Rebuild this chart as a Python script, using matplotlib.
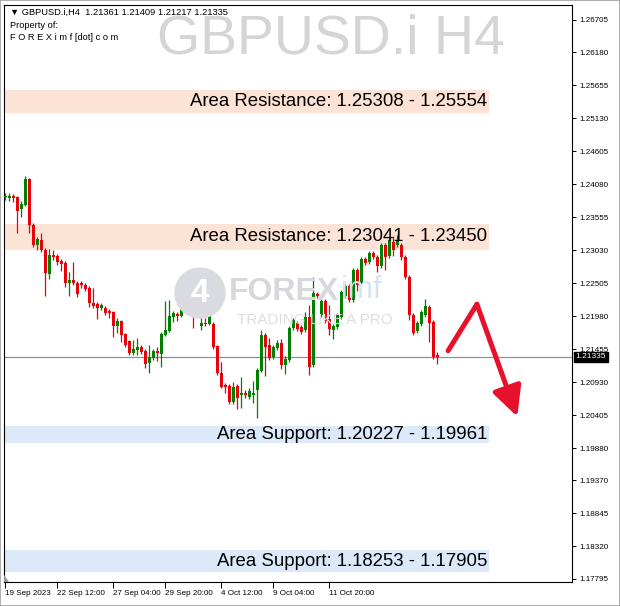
import matplotlib
matplotlib.use('agg')
import matplotlib.pyplot as plt
from matplotlib.patches import Ellipse, Rectangle, Polygon
import numpy as np

plt.rcParams['font.family'] = ['Liberation Sans', 'DejaVu Sans']

# GBPUSD.i H4 candles
opens = [1.2388, 1.2386, 1.2389, 1.2388, 1.2369, 1.2375, 1.2417, 1.2343, 1.2311, 1.2319,
         1.2303, 1.2265, 1.2296, 1.2294, 1.2286, 1.2283, 1.2251, 1.2256, 1.2251, 1.2251,
         1.2248, 1.2243, 1.2219, 1.2217, 1.2211, 1.2211, 1.2206, 1.2205, 1.2182, 1.2190,
         1.2170, 1.2159, 1.2139, 1.2144, 1.2149, 1.2143, 1.2123, 1.2131, 1.2143, 1.2138,
         1.2168, 1.2174, 1.2197, 1.2202, 1.2198, 1.2219, 1.2232, 1.2259, 1.2206, 1.2182,
         1.2187, 1.2186, 1.2186, 1.2151, 1.2107, 1.2088, 1.2087, 1.2061, 1.2087, 1.2073,
         1.2076, 1.2069, 1.2073, 1.2080, 1.2111, 1.2168, 1.2152, 1.2133, 1.2147, 1.2155,
         1.2120, 1.2128, 1.2179, 1.2187, 1.2181, 1.2176, 1.2197, 1.2120, 1.2233, 1.2200,
         1.2222, 1.2194, 1.2176, 1.2181, 1.2197, 1.2230, 1.2246, 1.2224, 1.2272, 1.2249,
         1.2289, 1.2284, 1.2299, 1.2292, 1.2278, 1.2311, 1.2294, 1.2316, 1.2311, 1.2311,
         1.2292, 1.2260, 1.2200, 1.2174, 1.2186, 1.2200, 1.2213, 1.2189, 1.21361]
highs = [1.2394, 1.2394, 1.2393, 1.2389, 1.2381, 1.2421, 1.2418, 1.2346, 1.2324, 1.2331,
         1.2307, 1.2305, 1.2303, 1.2297, 1.2289, 1.2286, 1.2268, 1.2284, 1.2254, 1.2254,
         1.2251, 1.2246, 1.2243, 1.2221, 1.2219, 1.2214, 1.2209, 1.2206, 1.2195, 1.2192,
         1.2171, 1.2160, 1.2160, 1.2163, 1.2152, 1.2146, 1.2152, 1.2146, 1.2149, 1.2173,
         1.2222, 1.2224, 1.2206, 1.2205, 1.2229, 1.2254, 1.2270, 1.2260, 1.2224, 1.2203,
         1.2195, 1.2219, 1.2189, 1.2152, 1.2125, 1.2092, 1.2090, 1.2093, 1.2090, 1.2101,
         1.2080, 1.2084, 1.2095, 1.2115, 1.2176, 1.2171, 1.2163, 1.2152, 1.2160, 1.2162,
         1.2135, 1.2182, 1.2195, 1.2190, 1.2184, 1.2205, 1.2216, 1.2260, 1.2237, 1.2225,
         1.2225, 1.2216, 1.2186, 1.2203, 1.2240, 1.2249, 1.2249, 1.2275, 1.2275, 1.2292,
         1.2292, 1.2302, 1.2302, 1.2296, 1.2315, 1.2315, 1.2323, 1.2326, 1.2327, 1.2315,
         1.2296, 1.2264, 1.2203, 1.2190, 1.2208, 1.2225, 1.2216, 1.2192, 1.21409]
lows = [1.2383, 1.2381, 1.2380, 1.2331, 1.2356, 1.2374, 1.2331, 1.2308, 1.2303, 1.2300,
        1.2230, 1.2257, 1.2288, 1.2280, 1.2270, 1.2245, 1.2230, 1.2248, 1.2229, 1.2243,
        1.2238, 1.2213, 1.2211, 1.2194, 1.2208, 1.2200, 1.2195, 1.2165, 1.2171, 1.2157,
        1.2149, 1.2136, 1.2136, 1.2136, 1.2138, 1.2115, 1.2107, 1.2128, 1.2127, 1.2117,
        1.2166, 1.2173, 1.2189, 1.2190, 1.2197, 1.2216, 1.2230, 1.2179, 1.2197, 1.2176,
        1.2182, 1.2184, 1.2146, 1.2104, 1.2084, 1.2076, 1.2058, 1.2058, 1.2050, 1.2052,
        1.2068, 1.2066, 1.2060, 1.2036, 1.2109, 1.2103, 1.2128, 1.2130, 1.2144, 1.2114,
        1.2106, 1.2125, 1.2176, 1.2174, 1.2170, 1.2173, 1.2104, 1.2117, 1.2227, 1.2197,
        1.2187, 1.2168, 1.2162, 1.2178, 1.2194, 1.2227, 1.2221, 1.2221, 1.2238, 1.2246,
        1.2280, 1.2281, 1.2289, 1.2268, 1.2275, 1.2272, 1.2291, 1.2294, 1.2308, 1.2288,
        1.2257, 1.2192, 1.2168, 1.2171, 1.2182, 1.2197, 1.2157, 1.2130, 1.21217]
closes = [1.2389, 1.2389, 1.2386, 1.2366, 1.2377, 1.2417, 1.2343, 1.2311, 1.2321, 1.2303,
          1.2267, 1.2296, 1.2292, 1.2284, 1.2281, 1.2251, 1.2256, 1.2251, 1.2233, 1.2248,
          1.2241, 1.2219, 1.2214, 1.2211, 1.2216, 1.2203, 1.2203, 1.2182, 1.2190, 1.2168,
          1.2152, 1.2139, 1.2146, 1.2149, 1.2141, 1.2122, 1.2133, 1.2143, 1.2139, 1.2170,
          1.2176, 1.2198, 1.2203, 1.2198, 1.2221, 1.2235, 1.2259, 1.2205, 1.2203, 1.2187,
          1.2186, 1.2205, 1.2149, 1.2107, 1.2085, 1.2085, 1.2061, 1.2085, 1.2068, 1.2076,
          1.2073, 1.2079, 1.2076, 1.2112, 1.2168, 1.2149, 1.2131, 1.2149, 1.2155, 1.2120,
          1.2130, 1.2179, 1.2192, 1.2178, 1.2173, 1.2197, 1.2117, 1.2235, 1.2230, 1.2222,
          1.2190, 1.2178, 1.2182, 1.2200, 1.2237, 1.2246, 1.2224, 1.2272, 1.2248, 1.2289,
          1.2283, 1.2299, 1.2292, 1.2278, 1.2311, 1.2292, 1.2319, 1.2303, 1.2319, 1.2292,
          1.2260, 1.2200, 1.2171, 1.2187, 1.2205, 1.2214, 1.2187, 1.2133, 1.21335]

price_ticks = [1.26705, 1.26180, 1.25655, 1.25130, 1.24605, 1.24080, 1.23555, 1.23030, 1.22505,
               1.21980, 1.21455, 1.20930, 1.20405, 1.19880, 1.19370, 1.18845, 1.18320, 1.17795]
time_labels = ["19 Sep 2023", "22 Sep 12:00", "27 Sep 04:00", "29 Sep 20:00",
               "4 Oct 12:00", "9 Oct 04:00", "11 Oct 20:00"]
time_label_bars = [0, 13, 27, 40, 54, 67, 81]

resistance_zones = [(1.2522, 1.2558, "Area Resistance: 1.25308 - 1.25554"),
                    (1.23041, 1.23450, "Area Resistance: 1.23041 - 1.23450")]
support_zones = [(1.19961, 1.20227, "Area Support: 1.20227 - 1.19961"),
                 (1.17905, 1.18253, "Area Support: 1.18253 - 1.17905")]
zone_end_bar = 120.9

current_price = 1.21335
forecast_path = [(110.7, 1.2143), (117.9, 1.2217), (128.0, 1.2038)]

bull = '#008000'
bear = '#e8000b'

fig = plt.figure(figsize=(6.2, 6.06), dpi=100)
ax = fig.add_axes([4 / 620, 24 / 606, 568 / 620, 577 / 606])
ax.set_xlim(-0.325, 141.675)
ax.set_ylim(1.17747, 1.26936)

# zones
for lo, hi, txt in resistance_zones:
    ax.add_patch(Rectangle((-1, lo), zone_end_bar + 1, hi - lo, color='#fce3d6', lw=0, zorder=0))
    ax.text(zone_end_bar - 0.5, (lo + hi) / 2, txt, ha='right', va='center',
            fontsize=13.4, color='black', zorder=5)
for lo, hi, txt in support_zones:
    ax.add_patch(Rectangle((-1, lo), zone_end_bar + 1, hi - lo, color='#dbe9f8', lw=0, zorder=0))
    ax.text(zone_end_bar - 0.5, (lo + hi) / 2, txt, ha='right', va='center',
            fontsize=13.4, color='black', zorder=5)

# watermark logo
fig.add_artist(Ellipse((200 / 620, 1 - 293 / 606), 50 / 620, 50 / 606,
                       transform=fig.transFigure, color='#d9dbe0', zorder=0.5))
fig.text(200 / 620, 1 - 293 / 606, "4", fontsize=24, fontweight='bold', color='white',
         ha='center', va='center', zorder=0.6)
fig.text(229 / 620, 1 - 292 / 606, "FOREX", fontsize=23, fontweight='bold', color='#d6d8dd',
         ha='left', va='center', zorder=0.6)
fig.text(341 / 620, 1 - 290 / 606, "imf", fontsize=22, color='#d2e4f4',
         ha='left', va='center', zorder=0.6)
fig.text(237 / 620, 1 - 320 / 606, "TRADING LIKE A PRO", fontsize=11, color='#dedede',
         ha='left', va='center', zorder=0.6)
fig.text(505 / 620, 1 - 40 / 606, "GBPUSD.i H4", fontsize=40, color='#d5d5d5',
         ha='right', va='center', zorder=0.6)

# candles
o = np.array(opens)
c = np.array(closes)
x = np.arange(len(o))
cols = np.where(c >= o, bull, bear)
ax.vlines(x, lows, highs, colors=cols, lw=0.9, zorder=3)
body = np.maximum(np.abs(c - o), 0.00012)
ax.bar(x, body, bottom=np.minimum(o, c), width=0.75, color=cols, lw=0, zorder=3)

# current price line
ax.axhline(current_price, color='#8a9099', lw=0.9, zorder=2)

# forecast arrow
(x0, y0), (x1, y1), (x2, y2) = forecast_path
ax.plot([x0, x1], [y0, y1], color='#e8112d', lw=3.6, solid_capstyle='round', zorder=4)
ax.annotate('', xy=(x2, y2), xytext=(x1, y1),
            arrowprops=dict(arrowstyle='-|>,head_length=0.9,head_width=0.45', lw=3.6,
                            color='#e8112d', shrinkA=0, shrinkB=0, mutation_scale=20), zorder=4)

# MT4 chart-shift marker in the lower left corner
ax.add_patch(Polygon([[0, 0], [0.009, 0], [0, 0.009 * 568 / 577 * 1.4]], closed=True,
                     transform=ax.transAxes, color='#9a9a9a', lw=0, zorder=6))

# axes styling
for s in ax.spines.values():
    s.set_linewidth(0.8)
    s.set_color('black')
ax.yaxis.tick_right()
ax.set_yticks(price_ticks)
ax.set_yticklabels([f"{p:.5f}" for p in price_ticks])
ax.tick_params(axis='y', direction='out', length=3, width=0.7, pad=2, labelsize=5.8)
ax.set_xticks(time_label_bars)
ax.set_xticklabels(time_labels, ha='left')
ax.tick_params(axis='x', direction='out', length=4, width=0.7, pad=2, labelsize=5.8)

ax.annotate(f"{current_price:.5f}", xy=(1, current_price), xycoords=('axes fraction', 'data'),
            xytext=(2.5, 0), textcoords='offset points', va='center', ha='left',
            fontsize=6.0, color='white',
            bbox=dict(boxstyle='square,pad=0.2', fc='black', ec='black'))

# header text
fig.text(10 / 620, 1 - 12 / 606, "\u25bc GBPUSD.i,H4  1.21361 1.21409 1.21217 1.21335",
         fontsize=6.7, va='center', ha='left')
fig.text(10 / 620, 1 - 26 / 606, "Property of:", fontsize=6.7, va='center', ha='left')
fig.text(10 / 620, 1 - 38 / 606, "F O R E X i m f [dot] c o m", fontsize=6.7, va='center', ha='left')

fig.add_artist(Rectangle((0, 0), 1, 1, transform=fig.transFigure, fill=False,
                         ec='#a0a0a0', lw=1.2))

fig.savefig('out.png', dpi=100)
